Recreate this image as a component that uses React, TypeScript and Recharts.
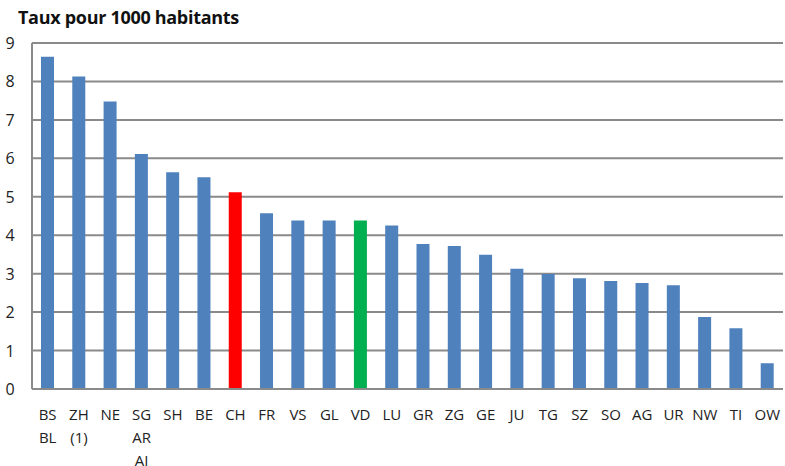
import { Bar, BarChart, CartesianGrid, Cell, XAxis, YAxis } from "recharts";

const cantons = [
  "BS\nBL", "ZH\n(1)", "NE", "SG\nAR\nAI", "SH", "BE", "CH", "FR", "VS", "GL", "VD", "LU",
  "GR", "ZG", "GE", "JU", "TG", "SZ", "SO", "AG", "UR", "NW", "TI", "OW",
];
const taux = [
  8.64, 8.13, 7.48, 6.11, 5.64, 5.51, 5.12, 4.57, 4.38, 4.38, 4.38, 4.25,
  3.77, 3.72, 3.49, 3.13, 2.99, 2.88, 2.81, 2.76, 2.70, 1.87, 1.58, 0.67,
];
const yTicks = [0, 1, 2, 3, 4, 5, 6, 7, 8, 9];

const highlight: Record<string, string> = { CH: "#ff0000", VD: "#00b050" };

const data = cantons.map((c, i) => ({ canton: c, taux: taux[i] }));

const FONT = "'Open Sans', sans-serif";

function CantonTick({ x, y, payload }: any) {
  const lines = String(payload.value).split("\n");
  return (
    <text x={x} y={y} textAnchor="middle" fill="#222" fontSize={15} fontFamily={FONT}>
      {lines.map((l, i) => (
        <tspan key={i} x={x} y={y + 31 + i * 23}>
          {l}
        </tspan>
      ))}
    </text>
  );
}

function ValueTick({ y, payload }: any) {
  return (
    <text x={10} y={y + 6} textAnchor="middle" fill="#222" fontSize={16} fontFamily={FONT}>
      {payload.value}
    </text>
  );
}

export default function App() {
  return (
    <div style={{ position: "absolute", left: 0, top: 0, width: 785, height: 466, background: "#fff", fontFamily: FONT }}>
      <div
        style={{
          position: "absolute",
          left: 18,
          top: 5,
          fontSize: 18,
          fontWeight: 700,
          color: "#111",
          letterSpacing: -0.3,
        }}
      >
        Taux pour 1000 habitants
      </div>
      <BarChart
        width={785}
        height={466}
        data={data}
        margin={{ top: 43, right: 2, left: 0, bottom: 0 }}
        barCategoryGap={0}
      >
        <CartesianGrid vertical={false} stroke="#8a8a8a" strokeWidth={2} />
        <XAxis
          dataKey="canton"
          interval={0}
          tickLine={false}
          tickSize={0}
          tickMargin={0}
          height={77}
          axisLine={{ stroke: "#8a8a8a", strokeWidth: 2 }}
          tick={<CantonTick />}
        />
        <YAxis
          domain={[0, 9]}
          ticks={yTicks}
          width={32}
          tickLine={false}
          axisLine={{ stroke: "#8a8a8a", strokeWidth: 2 }}
          tick={<ValueTick />}
        />
        <Bar dataKey="taux" barSize={13} isAnimationActive={false} fill="#4f81bd">
          {data.map((d) => (
            <Cell key={d.canton} fill={highlight[d.canton] ?? "#4f81bd"} />
          ))}
        </Bar>
      </BarChart>
    </div>
  );
}
